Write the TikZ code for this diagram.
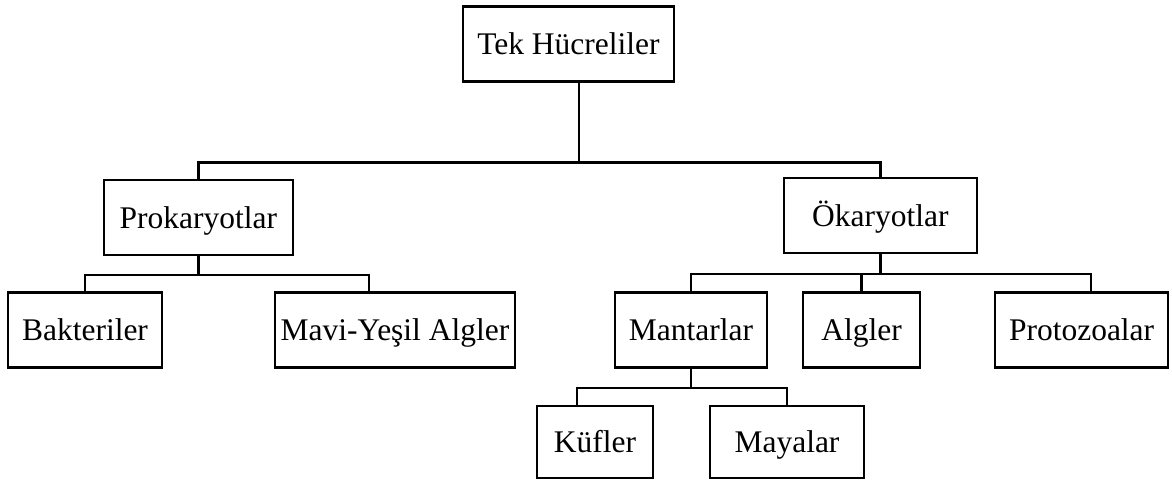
\documentclass[tikz,border=0pt]{standalone}
\usepackage{fontspec}
\setmainfont{Liberation Serif}
\usetikzlibrary{positioning}
\tikzset{
  kutu/.style = {rectangle, draw, line width=1.7pt, fill=white, minimum height=18.75mm, inner sep=0,
                 text height=20pt, text depth=4.5pt, font=\fontsize{22.4}{26}\selectfont},
  link/.style = {line width=1.7pt}
}

\begin{document}
\begin{tikzpicture}
  \useasboundingbox (0,0) rectangle (29.3,-12.075);
  \node[kutu, minimum width=52.75mm] (tek)   at (14.21,-1.10) {Tek Hücreliler};
  \node[kutu, minimum width=47.25mm] (pro)   at (4.96,-5.43)  {Prokaryotlar};
  \node[kutu, minimum width=48.25mm] (oka)   at (22.01,-5.39) {Ökaryotlar};
  \node[kutu, minimum width=38.5mm]  (bak)   at (2.125,-8.25) {Bakteriler};
  \node[kutu, minimum width=60mm]    (mavi)  at (9.875,-8.25) {Mavi-Yeşil Algler};
  \node[kutu, minimum width=38mm]    (man)   at (17.275,-8.25){Mantarlar};
  \node[kutu, minimum width=29.25mm] (alg)   at (21.54,-8.25) {Algler};
  \node[kutu, minimum width=43.25mm] (proto) at (27.04,-8.25) {Protozoalar};
  \node[kutu, minimum width=29mm, minimum height=18mm]   (kuf) at (14.875,-11.05) {Küfler};
  \node[kutu, minimum width=38.5mm, minimum height=18mm] (may) at (19.675,-11.05) {Mayalar};

  % ana dal
  \draw[link] ([xshift=2.6mm]tek.south) -- ++(0,-2.0) coordinate (j1);
  \draw[link] (pro.north) |- (j1) -| (oka.north);
  % prokaryotlar
  \draw[link] (pro.south) -- ++(0,-0.475) coordinate (j2);
  \draw[link] (bak.north) |- (j2) -| ([xshift=-6.5mm]mavi.north);
  % okaryotlar
  \draw[link] (oka.south) -- ++(0,-0.5) coordinate (j3);
  \draw[link] (man.north) |- (j3) -| ([xshift=2.4mm]proto.north);
  \draw[link] (alg.north) -- (alg.north |- j3);
  % mantarlar
  \draw[link] (man.south) -- ++(0,-0.475) coordinate (j4);
  \draw[link] ([xshift=-4.5mm]kuf.north) |- (j4) -| (may.north);
\end{tikzpicture}
\end{document}
